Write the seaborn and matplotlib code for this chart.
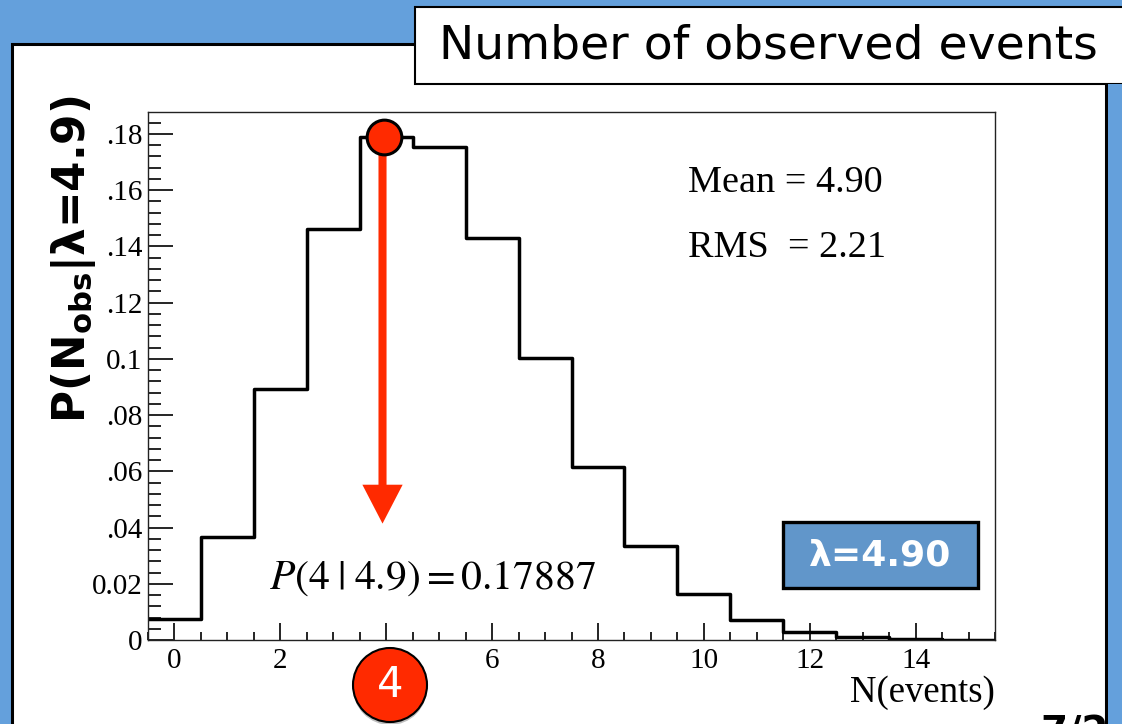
import matplotlib
matplotlib.use("Agg")
import matplotlib.pyplot as plt
import seaborn as sns
from matplotlib.patches import Rectangle, Circle
from matplotlib.ticker import MultipleLocator, FixedLocator, FixedFormatter

# Poisson probabilities for lambda = 4.9, one bin per observed count
n_events = [0, 1, 2, 3, 4, 5, 6, 7, 8, 9, 10, 11, 12, 13, 14, 15]
prob = [0.00745, 0.03649, 0.08940, 0.14602, 0.17887, 0.17529, 0.14316, 0.10021,
        0.06138, 0.03342, 0.01637, 0.00729, 0.00298, 0.00112, 0.00039, 0.00013]

x_ticks = [0, 2, 4, 6, 8, 10, 12, 14]
x_tick_labels = ["0", "2", "4", "6", "8", "10", "12", "14"]
y_ticks = [0, 0.02, 0.04, 0.06, 0.08, 0.10, 0.12, 0.14, 0.16, 0.18]
y_tick_labels = ["0", "0.02", ".04", ".06", ".08", "0.1", ".12", ".14", ".16", ".18"]

observed_n = 4
observed_p = 0.17887
stats_lines = ["Mean = 4.90", "RMS  = 2.21"]
title_text = "Number of observed events"
lambda_label = "λ=4.90"
prob_label = r"$P(4\;|\;4.9) = 0.17887$"

W, H = 1122, 724
BLUE = "#64a0dc"
BOX_BLUE = "#6196ca"
RED = "#ff2a00"


def fx(px):
    return px / W


def fy(py):
    return 1 - py / H


def frect(x0, y0, x1, y1, **kw):
    return Rectangle((fx(x0), fy(y1)), (x1 - x0) / W, (y1 - y0) / H,
                     transform=fig.transFigure, **kw)


fig = plt.figure(figsize=(W / 100, H / 100), dpi=100, facecolor=BLUE)

# white slide panel
fig.patches.append(frect(11.5, 43.5, 1106, 760, facecolor="white",
                         edgecolor="black", linewidth=2.2, zorder=-1))

ax = fig.add_axes([fx(148), fy(640), (995 - 148) / W, (640 - 112) / H])
ax.set_facecolor("white")

sns.histplot(x=n_events, weights=prob, discrete=True, element="step",
             fill=False, color="black", linewidth=2.5, ax=ax)

ax.set_xlim(-0.5, 15.5)
ax.set_ylim(0, 0.1878)
ax.set_xlabel("")
ax.set_ylabel("")

for sp in ax.spines.values():
    sp.set_linewidth(1.0)
    sp.set_color("#222222")

ax.xaxis.set_major_locator(FixedLocator(x_ticks))
ax.xaxis.set_major_formatter(FixedFormatter(x_tick_labels))
ax.xaxis.set_minor_locator(MultipleLocator(0.5))
ax.yaxis.set_major_locator(FixedLocator(y_ticks))
ax.yaxis.set_major_formatter(FixedFormatter(y_tick_labels))
ax.yaxis.set_minor_locator(MultipleLocator(0.004))

ax.tick_params(axis="x", which="major", direction="in", length=12, width=1.2,
               labelsize=21, pad=6, colors="black")
ax.tick_params(axis="x", which="minor", direction="in", length=6, width=1.2)
ax.tick_params(axis="y", which="major", direction="in", length=18, width=1.2,
               labelsize=21, pad=4, colors="black")
ax.tick_params(axis="y", which="minor", direction="in", length=9, width=1.2)
fig.canvas.draw()
for lab in ax.get_xticklabels() + ax.get_yticklabels():
    lab.set_fontfamily("Liberation Serif")
# the count marker below the axis takes the place of the "4" label
for lab in ax.get_xticklabels():
    if lab.get_text() == str(observed_n):
        lab.set_visible(False)

# statistics box text
ax.text(9.7, 0.1625, stats_lines[0], fontsize=27.5, family="Liberation Serif",
        ha="left", va="center")
ax.text(9.7, 0.1395, stats_lines[1], fontsize=27.5, family="Liberation Serif",
        ha="left", va="center")

# arrow from the peak value down to the probability label
ax.annotate("", xy=(observed_n - 0.07, 0.0414), xytext=(observed_n - 0.07, observed_p),
            arrowprops=dict(arrowstyle="simple,head_length=2.8,head_width=2.9,tail_width=0.58",
                            mutation_scale=10, color=RED, lw=0, shrinkA=0, shrinkB=0),
            zorder=4)
ax.plot([observed_n - 0.04], [observed_p], "o", ms=25, mfc=RED, mec="black",
        mew=2.2, zorder=6, clip_on=False)

ax.text(4.87, 0.0225, prob_label, fontsize=30, ha="center", va="center",
        math_fontfamily="stix")

ax.text(1.0, -0.099, "N(events)", transform=ax.transAxes, fontsize=26.5,
        family="Liberation Serif", ha="right", va="center")

# y-axis title
fig.text(fx(74), fy(259), r"P(N$_{\mathbf{obs}}$|λ=4.9)", rotation=90,
         ha="center", va="center", fontsize=31.5, fontweight="bold",
         family="DejaVu Sans", math_fontfamily="dejavusans")

# title box
fig.patches.append(frect(415, 7, 1140, 84, facecolor="white", edgecolor="black",
                         linewidth=1.5, zorder=2))
fig.text(fx(439), fy(46), title_text, fontsize=34, family="DejaVu Sans",
         ha="left", va="center", zorder=3)

# lambda badge
fig.patches.append(frect(783, 522, 978, 588, facecolor=BOX_BLUE, edgecolor="black",
                         linewidth=2.4, zorder=3))
fig.text(fx(880), fy(556), lambda_label, fontsize=26, fontweight="bold",
         family="DejaVu Sans", color="white", ha="center", va="center", zorder=4)

# observed-count marker below the axis
cx, cy, r = 390, 685, 37
fig.patches.append(Circle((cx / 100, (H - cy - 3) / 100), r / 100,
                          transform=fig.dpi_scale_trans, facecolor="black",
                          alpha=0.25, edgecolor="none", zorder=3))
fig.patches.append(Circle((cx / 100, (H - cy) / 100), r / 100,
                          transform=fig.dpi_scale_trans, facecolor=RED,
                          edgecolor="black", linewidth=1.5, zorder=4))
fig.text(fx(cx), fy(cy), str(observed_n), fontsize=30, family="DejaVu Sans",
         color="white", ha="center", va="center", zorder=5)

# slide number, partly outside the page
fig.text(fx(1040), fy(715), "7/29", fontsize=28, fontweight="bold",
         family="DejaVu Sans", ha="left", va="top", zorder=2)
fig.patches.append(frect(1107.5, 84, 1130, 760, facecolor=BLUE, edgecolor="none",
                         zorder=3))

fig.savefig("out.png", dpi=100, facecolor=BLUE)
